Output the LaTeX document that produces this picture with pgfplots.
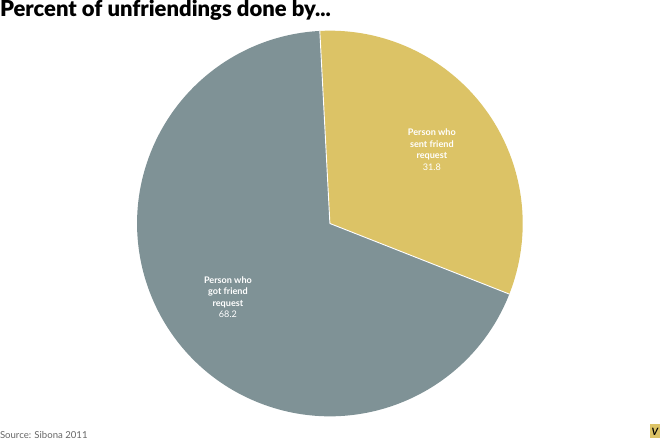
\documentclass[border=0pt]{standalone}
\usepackage{pgfplots}
\pgfplotsset{compat=1.18}
\usepackage{fontspec}
\setmainfont{Lato}
\newfontfamily\titlefont{Lato Black}
\definecolor{sentc}{HTML}{DCC366}
\definecolor{gotc}{HTML}{7F9296}
\definecolor{srcc}{HTML}{666666}
% slice values (percent)
\newcommand\valSent{31.8}
\newcommand\valGot{68.2}
\newcommand\startAng{93}
\begin{document}
\begin{tikzpicture}
\begin{axis}[width=660pt, height=441pt, scale only axis, hide axis,
  xmin=0, xmax=660, ymin=0, ymax=441, y dir=reverse, clip=false]
% pie, centre and radius in pixels of the reference
\fill[sentc] (axis cs:330,224) -- ++(\startAng:191pt)
  arc[start angle=\startAng, end angle={\startAng-\valSent*3.6}, radius=191pt] -- cycle;
\fill[gotc] (axis cs:330,224) -- ++({\startAng-\valSent*3.6}:191pt)
  arc[start angle={\startAng-\valSent*3.6}, end angle={\startAng-(\valSent+\valGot)*3.6}, radius=191pt] -- cycle;
\draw[white, line width=0.9pt] (axis cs:330,224) -- ++(\startAng:191pt);
\draw[white, line width=0.9pt] (axis cs:330,224) -- ++({\startAng-\valSent*3.6}:191pt);
% slice labels
\node[white, font=\fontsize{9}{11.5}\selectfont, align=center] at (axis cs:431,151)
  {\textbf{Person who}\\\textbf{sent friend}\\\textbf{request}\\\valSent};
\node[white, font=\fontsize{9}{11.5}\selectfont, align=center] at (axis cs:229,297)
  {\textbf{Person who}\\\textbf{got friend}\\\textbf{request}\\\valGot};
% title and source
\node[anchor=base west, inner sep=0pt, font=\titlefont\fontsize{21.8}{24}\selectfont] at (axis cs:3,19)
  {Percent of unfriendings done by...};
\node[anchor=base west, inner sep=0pt, text=srcc, font=\fontsize{9.5}{10}\selectfont] at (axis cs:3,437)
  {Source: Sibona 2011};
% logo
\fill[sentc] (axis cs:647,423) rectangle (axis cs:657,436);
\node[inner sep=0pt, font=\fontsize{10}{10}\bfseries\itshape\selectfont] at (axis cs:652,430) {V};
\end{axis}
\end{tikzpicture}
\end{document}
